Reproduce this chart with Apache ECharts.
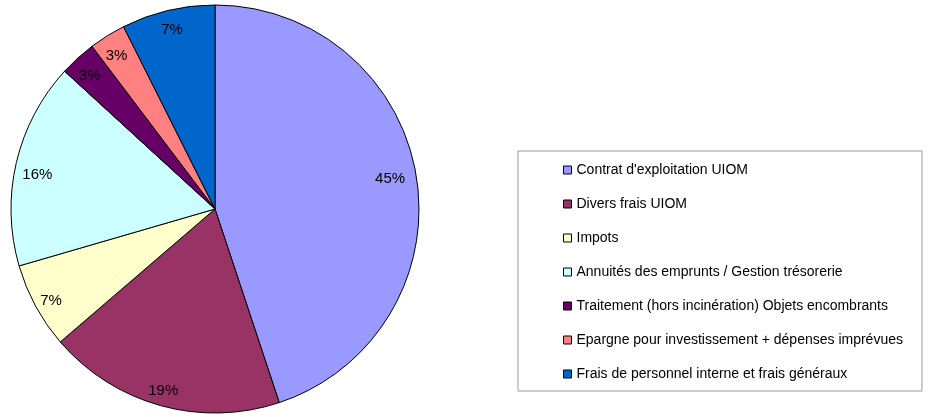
<!DOCTYPE html>
<html>
<head>
<meta charset="utf-8">
<style>
  html, body { margin: 0; padding: 0; background: #fff; }
  #main { width: 948px; height: 417px; }
</style>
<script src="https://cdn.jsdelivr.net/npm/echarts@6/dist/echarts.min.js"></script>
</head>
<body>
<div id="main"></div>
<script>
// postes de dépenses (parts en %)
var categories = [
  "Contrat d'exploitation UIOM",
  "Divers frais UIOM",
  "Impots",
  "Annuités des emprunts / Gestion trésorerie",
  "Traitement (hors incinération) Objets encombrants",
  "Epargne pour investissement + dépenses imprévues",
  "Frais de personnel interne et frais généraux"
];
var values = [44.9, 18.8, 6.8, 16.3, 2.9, 2.9, 7.4];
var colors = ['#9999FF', '#993366', '#FFFFCC', '#CCFFFF', '#660066', '#FF8080', '#0066CC'];
// petits décalages des étiquettes (placement façon Excel)
var labelShift = [[-9, 0], [-2, 2], [0, 3], [4, 8], [0, 5], [0, 5], [0, 2]];

var data = [];
var labelData = [];
for (var i = 0; i < categories.length; i++) {
  data.push({ name: categories[i], value: values[i] });
  labelData.push({ name: categories[i], value: values[i], label: { offset: labelShift[i] } });
}

var chart = echarts.init(document.getElementById('main'));
var option = {
  animation: false,
  color: colors,
  legend: {
    data: categories,
    orient: 'vertical',
    left: 518,
    top: 151,
    padding: [12, 19, 10, 45],
    borderColor: '#999999',
    borderWidth: 1,
    itemWidth: 8,
    itemHeight: 8,
    itemGap: 20,
    icon: 'rect',
    selectedMode: false,
    itemStyle: { borderColor: '#000', borderWidth: 1 },
    textStyle: {
      fontFamily: 'Liberation Sans, Arial, sans-serif',
      fontSize: 14,
      lineHeight: 14,
      color: '#000'
    }
  },
  series: [
    {
      name: 'parts',
      type: 'pie',
      center: [215, 209],
      radius: [0, 204],
      startAngle: 90,
      clockwise: true,
      silent: true,
      avoidLabelOverlap: false,
      itemStyle: { borderColor: '#000', borderWidth: 1 },
      label: { show: false },
      labelLine: { show: false },
      emphasis: { disabled: true },
      data: data
    },
    {
      // anneau invisible qui porte les étiquettes près du bord
      name: 'etiquettes',
      type: 'pie',
      center: [215, 209],
      radius: [163, 204],
      startAngle: 90,
      clockwise: true,
      silent: true,
      avoidLabelOverlap: false,
      itemStyle: { color: 'rgba(0,0,0,0)', borderWidth: 0 },
      label: {
        show: true,
        position: 'inside',
        color: '#000',
        fontFamily: 'Liberation Sans, Arial, sans-serif',
        fontSize: 15,
        formatter: function (p) { return Math.round(p.percent) + '%'; }
      },
      labelLine: { show: false },
      emphasis: { disabled: true },
      data: labelData
    }
  ]
};
chart.setOption(option);
</script>
</body>
</html>
